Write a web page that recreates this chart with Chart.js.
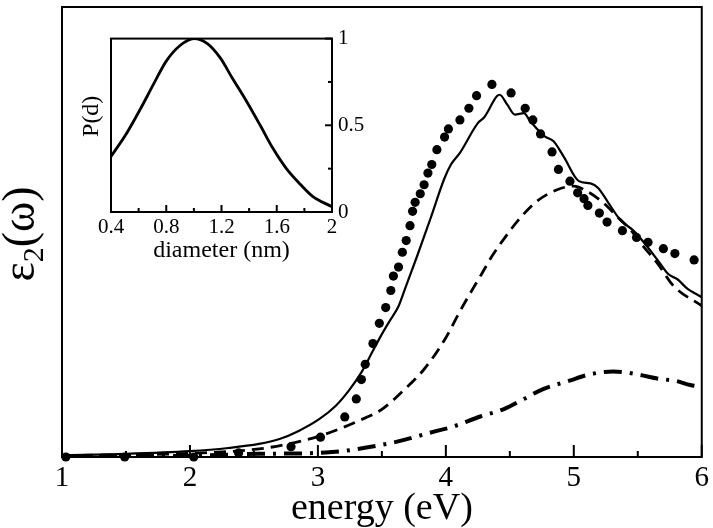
<!DOCTYPE html>
<html>
<head>
<meta charset="utf-8">
<title>eps2 spectrum</title>
<script src="https://cdn.jsdelivr.net/npm/chart.js@4.4.1/dist/chart.umd.min.js"></script>
<style>
    html, body { margin: 0; padding: 0; background: #fff; overflow: hidden; }
    #wrap { position: relative; width: 713px; height: 528px; }
    #mainChart { position: absolute; left: 0; top: 0; }
    #insetChart { position: absolute; left: 70px; top: 20px; }
</style>
</head>
<body>
<div id="wrap">
    <canvas id="mainChart" width="713" height="528"></canvas>
    <canvas id="insetChart" width="300" height="250"></canvas>
</div>
<script>
// experiment (dots)
var energyExp = [1.03, 1.49, 2.03, 2.38, 2.79, 3.02, 3.21, 3.30, 3.34, 3.37, 3.43, 3.48, 3.53, 3.57, 3.59,
    3.63, 3.66, 3.69, 3.72, 3.74, 3.76, 3.80, 3.83, 3.86, 3.89, 3.93, 3.99, 4.02, 4.11, 4.18,
    4.24, 4.36, 4.51, 4.62, 4.68, 4.74, 4.83, 4.88, 4.97, 5.03, 5.08, 5.11, 5.20, 5.26, 5.38,
    5.49, 5.58, 5.70, 5.79, 5.94];
var eps2Exp = [0, 0, 0, 0.09, 0.23, 0.44, 0.89, 1.29, 1.72, 2.06, 2.52, 2.97, 3.32, 3.70, 4.02,
    4.22, 4.55, 4.81, 5.14, 5.46, 5.66, 5.85, 6.05, 6.31, 6.50, 6.83, 7.11, 7.29, 7.49, 7.75,
    8.03, 8.28, 8.09, 7.75, 7.49, 7.18, 6.78, 6.39, 6.13, 5.87, 5.74, 5.59, 5.42, 5.22, 5.03,
    4.88, 4.77, 4.63, 4.52, 4.38];

// solid line
var energySolid = [1.0, 1.5, 2.0, 2.3, 2.54, 2.70, 2.85, 3.01, 3.14, 3.24, 3.34, 3.43, 3.50, 3.56, 3.63,
    3.68, 3.78, 3.88, 3.99, 4.04, 4.11, 4.25, 4.30, 4.40, 4.42, 4.48, 4.54, 4.61, 4.66, 4.77,
    4.84, 4.92, 5.04, 5.13, 5.19, 5.27, 5.36, 5.47, 5.57, 5.68, 5.74, 5.81, 5.88, 6.0];
var eps2Solid = [0.04, 0.07, 0.13, 0.20, 0.29, 0.40, 0.58, 0.84, 1.14, 1.47, 1.88, 2.36, 2.73, 3.02, 3.35,
    3.73, 4.50, 5.30, 6.20, 6.50, 6.76, 7.42, 7.55, 8.02, 8.05, 7.83, 7.61, 7.64, 7.46, 7.13,
    7.02, 6.68, 6.13, 6.08, 5.98, 5.65, 5.28, 5.02, 4.69, 4.28, 4.06, 3.95, 3.76, 3.55];

// dashed line
var energyDashed = [1.0, 1.5, 2.0, 2.54, 2.80, 3.06, 3.29, 3.50, 3.68, 3.83, 4.00, 4.09, 4.17, 4.27, 4.36,
    4.47, 4.58, 4.71, 4.87, 5.00, 5.10, 5.23, 5.35, 5.44, 5.54, 5.65, 5.78, 6.0];
var eps2Dashed = [0.03, 0.05, 0.08, 0.18, 0.31, 0.51, 0.77, 1.06, 1.51, 1.95, 2.65, 3.13, 3.54, 4.02, 4.46,
    4.91, 5.31, 5.68, 5.94, 6.02, 5.91, 5.65, 5.31, 5.06, 4.69, 4.32, 3.80, 3.36];

// dash-dot line
var energyDashDot = [1.0, 1.5, 2.0, 2.54, 3.06, 3.57, 3.93, 4.04, 4.27, 4.45, 4.61, 4.76, 4.96, 5.13, 5.31,
    5.49, 5.66, 5.80, 5.91, 6.0];
var eps2DashDot = [0.02, 0.02, 0.03, 0.07, 0.10, 0.31, 0.58, 0.66, 0.90, 1.06, 1.29, 1.51, 1.69, 1.84, 1.90,
    1.84, 1.74, 1.69, 1.60, 1.56];

// inset: size distribution
var diameter = [0.4, 0.51, 0.61, 0.71, 0.80, 0.90, 1.0, 1.10, 1.19, 1.28, 1.38, 1.48, 1.57, 1.67, 1.77, 1.86, 2.0];
var probability = [0.32, 0.45, 0.59, 0.74, 0.87, 0.96, 1.0, 0.97, 0.89, 0.77, 0.64, 0.50, 0.37, 0.25, 0.16, 0.09, 0.03];

// ticks
var energyTicks = [1, 2, 3, 4, 5, 6];
var energyMinor = [1.5, 2.5, 3.5, 4.5, 5.5];
var diameterTicks = [0.4, 0.8, 1.2, 1.6, 2];
var diameterMinor = [0.6, 1.0, 1.4, 1.8];
var probTicks = [0, 0.5, 1];
var probMinor = [0.25, 0.75];

var SERIF = '"Liberation Serif", "Times New Roman", serif';

function pts(xs, ys) {
    return xs.map(function (x, i) { return { x: x, y: ys[i] }; });
}

// box frame + inward tick marks
var frameTicks = {
    id: 'frameTicks',
    afterDatasetsDraw: function (chart, args, opts) {
        var ctx = chart.ctx, a = chart.chartArea;
        ctx.save();
        ctx.strokeStyle = '#000';
        ctx.lineWidth = opts.lineWidth;
        ctx.strokeRect(a.left, a.top, a.right - a.left, a.bottom - a.top);
        (opts.bottom || []).forEach(function (t) {
            var px = chart.scales[opts.xId].getPixelForValue(t.v);
            ctx.beginPath();
            ctx.moveTo(px, a.bottom);
            ctx.lineTo(px, a.bottom - t.len);
            ctx.stroke();
        });
        (opts.right || []).forEach(function (t) {
            var py = chart.scales[opts.yId].getPixelForValue(t.v);
            ctx.beginPath();
            ctx.moveTo(a.right, py);
            ctx.lineTo(a.right - t.len, py);
            ctx.stroke();
        });
        ctx.restore();
    }
};

// rotated left title; parts let the main one carry a subscript
function sideTitle(cx, dy, parts) {
    return {
        id: 'sideTitle',
        afterDraw: function (chart) {
            var ctx = chart.ctx, a = chart.chartArea;
            var widths = [], total = 0;
            ctx.save();
            parts.forEach(function (p) {
                ctx.font = p[1] + 'px ' + SERIF;
                var w = ctx.measureText(p[0]).width;
                widths.push(w);
                total += w;
            });
            ctx.translate(cx, (a.top + a.bottom) / 2 + dy);
            ctx.rotate(-Math.PI / 2);
            ctx.fillStyle = '#000';
            ctx.textBaseline = 'alphabetic';
            var x = -total / 2;
            parts.forEach(function (p, i) {
                ctx.font = p[1] + 'px ' + SERIF;
                ctx.fillText(p[0], x, p[2]);
                x += widths[i];
            });
            ctx.restore();
        }
    };
}

function tickList(major, minor, lMajor, lMinor) {
    return major.map(function (v) { return { v: v, len: lMajor }; })
        .concat(minor.map(function (v) { return { v: v, len: lMinor }; }));
}

// Main chart
var mainChart = new Chart(document.getElementById('mainChart'), {
    type: 'scatter',
    data: {
        datasets: [{
            label: 'experiment',
            data: pts(energyExp, eps2Exp),
            showLine: false,
            pointRadius: 4.6,
            pointBackgroundColor: '#000',
            pointBorderWidth: 0,
            clip: false
        }, {
            label: 'solid',
            data: pts(energySolid, eps2Solid),
            showLine: true,
            borderColor: '#000',
            borderWidth: 2.2,
            pointRadius: 0,
            cubicInterpolationMode: 'monotone'
        }, {
            label: 'dashed',
            data: pts(energyDashed, eps2Dashed),
            showLine: true,
            borderColor: '#000',
            borderWidth: 2.8,
            borderDash: [12, 7],
            pointRadius: 0,
            cubicInterpolationMode: 'monotone'
        }, {
            label: 'dash-dot',
            data: pts(energyDashDot, eps2DashDot),
            showLine: true,
            borderColor: '#000',
            borderWidth: 4,
            borderDash: [18, 8, 3, 8],
            pointRadius: 0,
            cubicInterpolationMode: 'monotone'
        }]
    },
    options: {
        responsive: false,
        animation: false,
        layout: { padding: { top: 7, right: 8, left: 0, bottom: 0 } },
        plugins: {
            legend: { display: false },
            tooltip: { enabled: false },
            frameTicks: {
                lineWidth: 2,
                xId: 'x',
                bottom: tickList(energyTicks, energyMinor, 12, 6)
            }
        },
        scales: {
            x: {
                type: 'linear',
                min: 1,
                max: 6,
                grid: { display: false, drawTicks: false },
                border: { display: false },
                afterBuildTicks: function (s) { s.ticks = energyTicks.map(function (v) { return { value: v }; }); },
                ticks: {
                    padding: 4,
                    color: '#000',
                    maxRotation: 0,
                    font: { family: SERIF, size: 29 },
                    callback: function (v) { return String(v); }
                },
                title: {
                    display: true,
                    text: 'energy (eV)',
                    color: '#000',
                    font: { family: SERIF, size: 38, lineHeight: 1 },
                    padding: { top: 0, bottom: 0 }
                },
                afterFit: function (s) { s.height = 71; }
            },
            y: {
                type: 'linear',
                min: 0,
                max: 10,
                grid: { display: false, drawTicks: false },
                border: { display: false },
                ticks: { display: false },
                afterFit: function (s) { s.width = 62; }
            }
        }
    },
    plugins: [frameTicks, sideTitle(34, 2, [['ε', 46, 0], ['2', 30, 9], ['(ω)', 46, 0]])]
});

// Inset chart
var insetChart = new Chart(document.getElementById('insetChart'), {
    type: 'scatter',
    data: {
        datasets: [{
            label: 'P(d)',
            data: pts(diameter, probability),
            showLine: true,
            borderColor: '#000',
            borderWidth: 2.8,
            pointRadius: 0,
            cubicInterpolationMode: 'monotone',
            yAxisID: 'y'
        }]
    },
    options: {
        responsive: false,
        animation: false,
        layout: { padding: { top: 13, right: 0, left: 41, bottom: 0 } },
        plugins: {
            legend: { display: false },
            tooltip: { enabled: false },
            frameTicks: {
                lineWidth: 2,
                xId: 'x',
                yId: 'y',
                bottom: tickList(diameterTicks, diameterMinor, 7, 4),
                right: tickList(probTicks, probMinor, 7, 4)
            }
        },
        scales: {
            x: {
                type: 'linear',
                min: 0.4,
                max: 2,
                grid: { display: false, drawTicks: false },
                border: { display: false },
                afterBuildTicks: function (s) { s.ticks = diameterTicks.map(function (v) { return { value: v }; }); },
                ticks: {
                    padding: 3,
                    color: '#000',
                    maxRotation: 0,
                    font: { family: SERIF, size: 21 },
                    callback: function (v) { return String(v); }
                },
                title: {
                    display: true,
                    text: 'diameter (nm)',
                    color: '#000',
                    font: { family: SERIF, size: 24, lineHeight: 1 },
                    padding: { top: 0, bottom: 7 }
                },
                afterFit: function (s) { s.height = 58; }
            },
            y: {
                type: 'linear',
                position: 'right',
                min: 0,
                max: 1,
                grid: { display: false, drawTicks: false },
                border: { display: false },
                afterBuildTicks: function (s) { s.ticks = probTicks.map(function (v) { return { value: v }; }); },
                ticks: {
                    padding: 6,
                    color: '#000',
                    font: { family: SERIF, size: 21 },
                    callback: function (v) { return String(v); }
                },
                afterFit: function (s) { s.width = 38; }
            }
        }
    },
    plugins: [frameTicks, sideTitle(28, -9, [['P(d)', 24, 0]])]
});
</script>
</body>
</html>
